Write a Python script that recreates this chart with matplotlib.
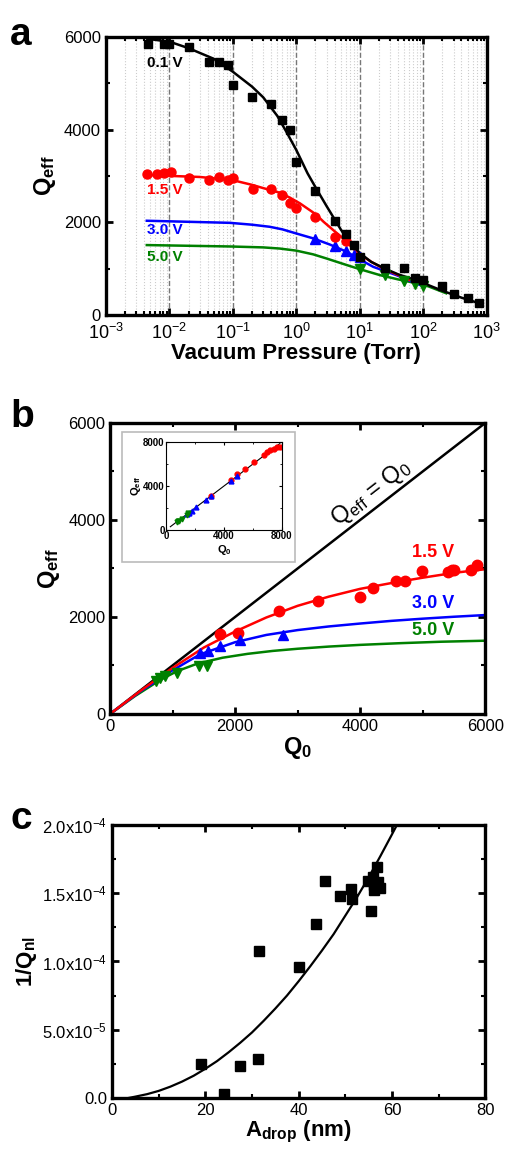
import numpy as np
import matplotlib
matplotlib.use('Agg')
import matplotlib.pyplot as plt
from matplotlib.ticker import LogLocator, MultipleLocator, FixedLocator, NullFormatter
from matplotlib.patches import Rectangle

plt.rcParams['font.family'] = ['Liberation Sans', 'DejaVu Sans']
plt.rcParams['mathtext.fontset'] = 'custom'
plt.rcParams['mathtext.rm'] = 'Liberation Sans'
plt.rcParams['mathtext.it'] = 'Liberation Sans'
plt.rcParams['mathtext.bf'] = 'Liberation Sans:bold'

# ---------------- panel a : Q_eff vs pressure
p_01 = [0.0046, 0.0083, 0.01, 0.02, 0.042, 0.06, 0.085, 0.1, 0.2, 0.4, 0.6, 0.8, 1.0,
        2, 4, 6, 8, 10, 25, 50, 75, 100, 200, 300, 500, 750]
q_01 = [5860, 5860, 5860, 5790, 5465, 5465, 5395, 4960, 4710, 4565, 4205, 3990, 3310,
        2680, 2035, 1740, 1510, 1260, 1020, 1005, 810, 755, 625, 465, 360, 250]
p_15 = [0.0045, 0.0063, 0.0083, 0.0105, 0.02, 0.042, 0.06, 0.083, 0.1, 0.21, 0.4, 0.6,
        0.8, 1.0, 2, 4, 6]
q_15 = [3035, 3035, 3055, 3080, 2960, 2910, 2985, 2910, 2950, 2720, 2730, 2590,
        2410, 2315, 2120, 1675, 1600]
p_30 = [2, 4, 6, 8, 10]
q_30 = [1640, 1500, 1390, 1290, 1250]
p_50 = [10, 25, 50, 75, 100]
q_50 = [985, 865, 735, 670, 625]

fitp_01 = [0.0045, 0.01, 0.02, 0.05, 0.1, 0.2, 0.3, 0.5, 0.7, 1.0, 1.5, 2, 3, 5, 7,
           10, 15, 25, 40, 70, 100, 200, 400, 780]
fitq_01 = [5960, 5900, 5760, 5530, 5250, 4930, 4700, 4300, 3950, 3560, 3060, 2760, 2350,
           1850, 1560, 1340, 1150, 1000, 880, 770, 690, 525, 375, 250]
fitp_15 = [0.0045, 0.03, 0.1, 0.2, 0.3, 0.55, 0.8, 1.14, 2, 2.7, 4, 5.5, 8, 11.3, 16, 23.4, 60]
fitq_15 = [3020, 2980, 2910, 2810, 2740, 2640, 2530, 2410, 2180, 2010, 1810, 1650, 1420,
           1260, 1130, 1006, 760]
fitp_30 = [0.0044, 0.09, 0.2, 0.38, 0.6, 1.0, 1.84, 3.4, 6.2, 10, 16.3, 25, 38, 100]
fitq_30 = [2035, 1990, 1950, 1905, 1850, 1760, 1655, 1520, 1365, 1200, 1040, 950, 860, 620]
fitp_50 = [0.0044, 0.09, 0.3, 0.55, 1.0, 1.84, 3, 6.2, 10, 21, 40, 70, 120, 230]
fitq_50 = [1510, 1480, 1460, 1435, 1390, 1310, 1220, 1080, 990, 860, 770, 700, 620, 470]

# ---------------- panel b : Q_eff vs Q0
b_q0_15 = [1760, 2050, 2710, 3330, 3990, 4210, 4580, 4720, 4990, 5400, 5470, 5500, 5780, 5870]
b_qe_15 = [1655, 1670, 2130, 2320, 2410, 2600, 2735, 2735, 2955, 2920, 2975, 2960, 2975, 3080]
b_q0_30 = [1440, 1560, 1760, 2080, 2770]
b_qe_30 = [1260, 1290, 1395, 1520, 1635]
b_q0_50 = [740, 800, 880, 1070, 1430, 1550]
b_qe_50 = [675, 740, 790, 845, 995, 995]

fit_q0_15 = [0, 500, 1000, 1500, 2000, 2500, 3000, 3500, 4000, 4500, 5000, 5500, 6000]
fit_qe_15 = [0, 490, 950, 1370, 1700, 1990, 2230, 2420, 2580, 2700, 2810, 2910, 2985]
fit_q0_30 = [0, 500, 1000, 1440, 2000, 2500, 3000, 3500, 4000, 4500, 5000, 5500, 6000]
fit_qe_30 = [0, 480, 900, 1230, 1480, 1630, 1730, 1805, 1865, 1920, 1965, 2005, 2040]
fit_q0_50 = [0, 400, 800, 1067, 1400, 1800, 2200, 2600, 3000, 3500, 4000, 4640, 5300, 6000]
fit_qe_50 = [0, 370, 700, 880, 1040, 1160, 1240, 1300, 1345, 1390, 1425, 1460, 1490, 1511]
diag = [0, 6000]

# inset
in_q0_15 = [3130, 4490, 4900, 5470, 6100, 6740, 6970, 7200, 7430, 7660, 7840]
in_qe_15 = [3130, 4560, 5100, 5560, 6140, 6840, 7050, 7230, 7360, 7510, 7540]
in_q0_30 = [1440, 1560, 1760, 2080, 2770, 3130, 4490, 4900]
in_qe_30 = [1440, 1560, 1760, 2080, 2770, 3100, 4480, 4950]
in_q0_50 = [740, 800, 880, 1070, 1430, 1550]
in_qe_50 = [700, 780, 860, 1040, 1400, 1560]
in_line = [300, 7850]

# ---------------- panel c : 1/Qnl vs A_drop
a_drop = [19.1, 23.9, 27.5, 31.2, 31.4, 40.1, 43.8, 45.7, 48.8, 51.3, 51.4, 54.9, 55.6,
          55.9, 56.1, 56.2, 56.8, 57.0, 57.5]
inv_qnl = [2.51e-5, 3.2e-6, 2.32e-5, 2.88e-5, 1.08e-4, 9.63e-5, 1.276e-4, 1.59e-4, 1.476e-4,
           1.53e-4, 1.46e-4, 1.59e-4, 1.366e-4, 1.62e-4, 1.52e-4, 1.56e-4, 1.69e-4, 1.58e-4, 1.54e-4]
fit_a = [3.5, 5, 7.5, 10, 12.5, 15, 17.5, 20, 22.5, 25, 27.5, 30, 32.5, 35, 37.5, 40,
         42.5, 45, 47.5, 50, 52.5, 55, 57.5, 60, 62]
fit_inv = [0, 1.0e-6, 2.8e-6, 5.2e-6, 8.3e-6, 1.2e-5, 1.63e-5, 2.14e-5, 2.7e-5, 3.35e-5,
           4.05e-5, 4.8e-5, 5.65e-5, 6.55e-5, 7.5e-5, 8.55e-5, 9.65e-5, 1.08e-4, 1.2e-4,
           1.335e-4, 1.47e-4, 1.615e-4, 1.77e-4, 1.93e-4, 2.06e-4]

RED, BLUE, GREEN = '#ff0000', '#0000ff', '#008000'

fig = plt.figure(figsize=(5.07, 11.57), dpi=100)


def style(ax, lw=2.4):
    for s in ax.spines.values():
        s.set_linewidth(lw)
    ax.tick_params(which='both', direction='in', top=True, right=True, labelsize=12)
    ax.tick_params(which='major', length=5, width=2)
    ax.tick_params(which='minor', length=3, width=1.5)


# panel a
ax1 = fig.add_axes([0.209, 0.7277, 0.751, 0.2403])
ax1.set_xscale('log')
ax1.set_xlim(1e-3, 1e3)
ax1.set_ylim(0, 6000)
ax1.xaxis.set_major_locator(LogLocator(base=10, numticks=10))
ax1.xaxis.set_minor_locator(LogLocator(base=10, subs=np.arange(2, 10), numticks=20))
ax1.xaxis.set_minor_formatter(NullFormatter())
ax1.yaxis.set_major_locator(MultipleLocator(2000))
ax1.yaxis.set_minor_locator(MultipleLocator(1000))
ax1.grid(which='minor', axis='x', color='#cccccc', linestyle=':', linewidth=0.8)
ax1.grid(which='major', axis='x', color='#777777', linestyle='--', linewidth=1.0)
ax1.set_axisbelow(True)
ax1.plot(fitp_50, fitq_50, color=GREEN, lw=1.8, zorder=2)
ax1.plot(fitp_30, fitq_30, color=BLUE, lw=1.8, zorder=2)
ax1.plot(fitp_15, fitq_15, color=RED, lw=1.8, zorder=2)
ax1.plot(fitp_01, fitq_01, color='black', lw=1.8, zorder=3)
ax1.plot(p_50, q_50, 'v', color=GREEN, ms=6.5, zorder=4)
ax1.plot(p_30, q_30, '^', color=BLUE, ms=6.5, zorder=4)
ax1.plot(p_15, q_15, 'o', color=RED, ms=6.5, zorder=4)
ax1.plot(p_01, q_01, 's', color='black', ms=6, zorder=5)
for lab, yy, c in [('0.1 V', 5450, 'black'), ('1.5 V', 2690, RED),
                   ('3.0 V', 1830, BLUE), ('5.0 V', 1250, GREEN)]:
    ax1.text(0.0044, yy, lab, color=c, fontsize=11, fontweight='bold', va='center', ha='left')
ax1.set_xlabel('Vacuum Pressure (Torr)', fontsize=16, fontweight='bold', labelpad=0)
ax1.set_ylabel(r'$\mathbf{Q_{eff}}$', fontsize=17, labelpad=4)
style(ax1)
ax1.tick_params(axis='x', which='major', pad=6)
for lbl in ax1.get_xticklabels():
    lbl.set_fontsize(13)
fig.text(0.02, 0.985, 'a', fontsize=28, fontweight='bold', va='top')

# panel b
ax2 = fig.add_axes([0.217, 0.3829, 0.740, 0.2515])
ax2.set_xlim(0, 6000)
ax2.set_ylim(0, 6000)
ax2.xaxis.set_major_locator(MultipleLocator(2000))
ax2.xaxis.set_minor_locator(MultipleLocator(1000))
ax2.yaxis.set_major_locator(MultipleLocator(2000))
ax2.yaxis.set_minor_locator(MultipleLocator(1000))
ax2.plot(diag, diag, color='black', lw=1.8)
ax2.plot(fit_q0_50, fit_qe_50, color=GREEN, lw=1.8)
ax2.plot(fit_q0_30, fit_qe_30, color=BLUE, lw=1.8)
ax2.plot(fit_q0_15, fit_qe_15, color=RED, lw=1.8)
ax2.plot(b_q0_15, b_qe_15, 'o', color=RED, ms=7.5)
ax2.plot(b_q0_30, b_qe_30, '^', color=BLUE, ms=7.5)
ax2.plot(b_q0_50, b_qe_50, 'v', color=GREEN, ms=7.5)
ax2.text(5170, 3340, '1.5 V', color=RED, fontsize=13, fontweight='bold', ha='center', va='center')
ax2.text(5170, 2270, '3.0 V', color=BLUE, fontsize=13, fontweight='bold', ha='center', va='center')
ax2.text(5170, 1730, '5.0 V', color=GREEN, fontsize=13, fontweight='bold', ha='center', va='center')
ax2.text(4170, 4560, r'$\mathrm{Q_{eff}}$ = $\mathrm{Q_0}$', fontsize=17, rotation=37.8,
         rotation_mode='anchor', ha='center', va='center')
ax2.set_xlabel(r'$\mathbf{Q_0}$', fontsize=17, labelpad=1)
ax2.set_ylabel(r'$\mathbf{Q_{eff}}$', fontsize=17, labelpad=4)
style(ax2)
fig.text(0.02, 0.655, 'b', fontsize=28, fontweight='bold', va='top')

# inset frame + inset axes
fig.patches.append(Rectangle((0.2406, 0.5143), 0.341, 0.1124, transform=fig.transFigure,
                             facecolor='white', edgecolor='#bbbbbb', lw=1.2, zorder=5))
ax3 = fig.add_axes([0.3274, 0.5419, 0.2288, 0.0761], zorder=6)
ax3.set_xlim(0, 8000)
ax3.set_ylim(0, 8000)
ax3.xaxis.set_major_locator(FixedLocator([0, 4000, 8000]))
ax3.yaxis.set_major_locator(FixedLocator([0, 4000, 8000]))
ax3.xaxis.set_minor_locator(MultipleLocator(2000))
ax3.yaxis.set_minor_locator(MultipleLocator(2000))
ax3.plot(in_line, in_line, color='black', lw=0.8)
ax3.plot(in_q0_15, in_qe_15, 'o', color=RED, ms=3.5)
ax3.plot(in_q0_30, in_qe_30, '^', color=BLUE, ms=3.5)
ax3.plot(in_q0_50, in_qe_50, 'v', color=GREEN, ms=3.5)
for s in ax3.spines.values():
    s.set_linewidth(0.8)
ax3.tick_params(which='both', direction='in', top=True, right=True, labelsize=7, pad=1)
ax3.tick_params(which='major', length=2.5, width=0.8)
ax3.tick_params(which='minor', length=1.5, width=0.6)
for lbl in ax3.get_xticklabels() + ax3.get_yticklabels():
    lbl.set_fontweight('bold')
ax3.set_xlabel(r'$\mathbf{Q_0}$', fontsize=8, labelpad=1)
ax3.set_ylabel(r'$\mathbf{Q_{eff}}$', fontsize=8, labelpad=0)

# panel c
ax4 = fig.add_axes([0.221, 0.051, 0.736, 0.236])
ax4.set_xlim(0, 80)
ax4.set_ylim(0, 2e-4)
ax4.xaxis.set_major_locator(MultipleLocator(20))
ax4.xaxis.set_minor_locator(MultipleLocator(10))
ax4.yaxis.set_major_locator(MultipleLocator(5e-5))
ax4.yaxis.set_minor_locator(MultipleLocator(2.5e-5))
ax4.set_yticks([0, 5e-5, 1e-4, 1.5e-4, 2e-4])
ax4.set_yticklabels(['0.0', '5.0x10$^{-5}$', '1.0x10$^{-4}$', '1.5x10$^{-4}$', '2.0x10$^{-4}$'])
ax4.plot(fit_a, fit_inv, color='black', lw=1.6)
ax4.plot(a_drop, inv_qnl, 's', color='black', ms=6.5)
ax4.set_xlabel(r'$\mathbf{A_{drop}}$ (nm)', fontsize=16, fontweight='bold', labelpad=1)
ax4.set_ylabel(r'1/$\mathbf{Q_{nl}}$', fontsize=16, fontweight='bold', labelpad=2)
style(ax4)
fig.text(0.02, 0.308, 'c', fontsize=28, fontweight='bold', va='top')

fig.savefig('out.png', dpi=100)
